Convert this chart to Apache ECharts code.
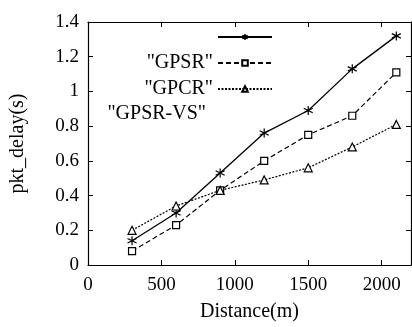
<!DOCTYPE html>
<html><head><meta charset="utf-8">
<script src="https://cdn.jsdelivr.net/npm/echarts@6/dist/echarts.min.js"></script>
<style>html,body{margin:0;padding:0;background:#fff}#c{width:412px;height:327px}</style>
</head><body><div id="c"></div>
<script>
var distances = [300, 600, 900, 1200, 1500, 1800, 2100];
var gpsr = [0.14, 0.30, 0.53, 0.76, 0.89, 1.13, 1.32];
var gpcr = [0.08, 0.23, 0.43, 0.60, 0.75, 0.86, 1.11];
var gpsrvs = [0.20, 0.34, 0.43, 0.49, 0.56, 0.68, 0.81];
var seriesNames = ['GPSR', 'GPCR', 'GPSR-VS'];
var legendLabels = ['', '"GPSR"', '"GPCR"', '"GPSR-VS"'];

function pairs(vals){ return distances.map(function(d,i){ return [d, vals[i]]; }); }
var font = 'Liberation Serif';
var star = 'path://M5,0L5,10M0.7,2.5L9.3,7.5M9.3,2.5L0.7,7.5';
var chart = echarts.init(document.getElementById('c'));
var axisCommon = {
  min: 0, axisLine: {show: true, onZero: false, lineStyle: {color: '#000', width: 1.2}},
  axisTick: {inside: true, length: 5, lineStyle: {color: '#000'}},
  splitLine: {show: false}
};
function plain(v){ return String(v); }
chart.setOption({
  animation: false,
  backgroundColor: '#fff',
  textStyle: {fontFamily: font},
  grid: {left: 86, right: 1, top: 22, bottom: 54},
  title: {text: legendLabels[3], right: 412 - 206, top: 104, padding: 0,
    textStyle: {color: '#000', fontSize: 20, fontWeight: 'normal', fontFamily: font}},
  xAxis: [
    Object.assign({}, axisCommon, {type: 'value', max: 2200, interval: 500, position: 'bottom',
      axisLabel: {showMaxLabel: false, color: '#000', fontSize: 19, fontFamily: font, margin: 11, formatter: plain},
      name: 'Distance(m)', nameLocation: 'middle', nameGap: 37,
      nameTextStyle: {color: '#000', fontSize: 20, fontFamily: font}}),
    Object.assign({}, axisCommon, {type: 'value', max: 2200, interval: 500, position: 'top',
      axisLabel: {show: false}})
  ],
  yAxis: [
    Object.assign({}, axisCommon, {type: 'value', max: 1.4, interval: 0.2, position: 'left',
      axisLabel: {color: '#000', fontSize: 19, fontFamily: font, margin: 9, formatter: plain},
      name: 'pkt_delay(s)', nameLocation: 'middle', nameGap: 60, nameRotate: 90,
      nameTextStyle: {color: '#000', fontSize: 20, fontFamily: font}}),
    Object.assign({}, axisCommon, {type: 'value', max: 1.4, interval: 0.2, position: 'right',
      axisLabel: {show: false}})
  ],
  legend: {
    data: seriesNames, orient: 'vertical', align: 'right', right: 139, top: 27, padding: 0,
    itemWidth: 54, itemHeight: 7, itemGap: 6,
    formatter: function(n){ var i = seriesNames.indexOf(n); return legendLabels[i] || ' '; },
    textStyle: {color: '#000', fontSize: 20, fontFamily: font, lineHeight: 20}
  },
  series: [
    {name: seriesNames[0], type: 'line', data: pairs(gpsr), symbol: star, symbolSize: 9,
     itemStyle: {color: 'none', borderColor: '#000', borderWidth: 1.2},
     lineStyle: {color: '#000', width: 1.3, type: 'solid'}},
    {name: seriesNames[1], type: 'line', data: pairs(gpcr), symbol: 'rect', symbolSize: 7,
     itemStyle: {color: '#fff', borderColor: '#000', borderWidth: 1.2},
     lineStyle: {color: '#000', width: 1.2, type: [5, 3]}},
    {name: seriesNames[2], type: 'line', data: pairs(gpsrvs), symbol: 'triangle', symbolSize: 8,
     itemStyle: {color: '#fff', borderColor: '#000', borderWidth: 1.2},
     lineStyle: {color: '#000', width: 1.2, type: [2, 1.5]}}
  ]
});
</script></body></html>
